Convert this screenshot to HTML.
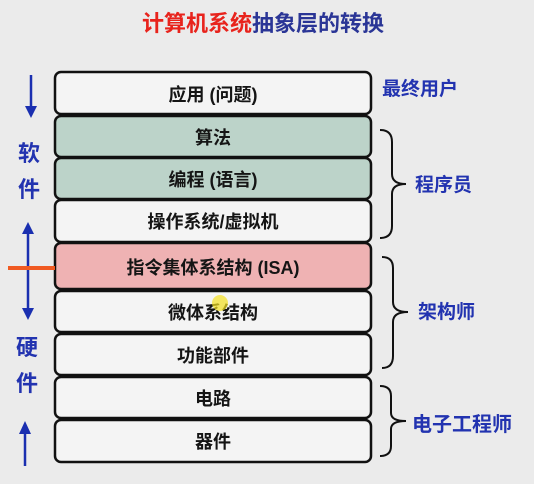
<!DOCTYPE html>
<html><head><meta charset="utf-8"><style>
html,body{margin:0;padding:0;background:#ebebeb;}
svg{display:block}
text{font-family:"Liberation Sans","Noto Sans CJK SC",sans-serif;}
</style></head><body>
<svg width="534" height="484" viewBox="0 0 534 484" xmlns="http://www.w3.org/2000/svg">
<rect width="534" height="484" fill="#ebebeb"/>
<text x="263" y="31" text-anchor="middle" font-size="22" font-weight="bold"><tspan fill="#e8231c">计算机系统</tspan><tspan fill="#2a3596">抽象层的转换</tspan></text>
<g stroke="#111" stroke-width="2.5">
<rect x="55" y="72" width="316" height="42" rx="6" fill="#f4f4f4"/>
<rect x="55" y="116" width="316" height="41" rx="6" fill="#bcd3c9"/>
<rect x="55" y="158" width="316" height="41" rx="6" fill="#bcd3c9"/>
<rect x="55" y="200" width="316" height="42" rx="6" fill="#f4f4f4"/>
<rect x="55" y="243" width="316" height="46" rx="6" fill="#efb2b3"/>
<rect x="55" y="291" width="316" height="41" rx="6" fill="#f4f4f4"/>
<rect x="55" y="334" width="316" height="41" rx="6" fill="#f4f4f4"/>
<rect x="55" y="377" width="316" height="41" rx="6" fill="#f4f4f4"/>
<rect x="55" y="420" width="316" height="42" rx="6" fill="#f4f4f4"/>
</g>
<g font-size="18" fill="#151515" text-anchor="middle" font-weight="bold">
<text x="213" y="101">应用 (问题)</text>
<text x="213" y="144">算法</text>
<text x="213" y="186">编程 (语言)</text>
<text x="213" y="228">操作系统/虚拟机</text>
<text x="213" y="274">指令集体系结构 (ISA)</text>
<text x="213" y="319">微体系结构</text>
<text x="213" y="362">功能部件</text>
<text x="213" y="405">电路</text>
<text x="213" y="448">器件</text>
</g>
<circle cx="220" cy="303" r="8" fill="#f3e020" opacity="0.7"/>
<g stroke="#1a2fb0" stroke-width="2.5" fill="#1a2fb0">
<line x1="31" y1="75" x2="31" y2="108"/><path d="M25 106 L37 106 L31 118 Z" stroke="none"/>
<line x1="28" y1="232" x2="28" y2="310"/><path d="M22 234 L34 234 L28 222 Z" stroke="none"/><path d="M22 308 L34 308 L28 320 Z" stroke="none"/>
<line x1="25" y1="432" x2="25" y2="466"/><path d="M19 434 L31 434 L25 421 Z" stroke="none"/>
</g>
<line x1="8" y1="268" x2="55" y2="268" stroke="#f05a22" stroke-width="4"/>
<g font-size="22" fill="#2233b0" text-anchor="middle" font-weight="bold">
<text x="29" y="161">软</text><text x="29" y="197">件</text>
<text x="27" y="355">硬</text><text x="27" y="391">件</text>
</g>
<g font-size="19" fill="#2233b0" font-weight="bold">
<text x="382" y="95">最终用户</text>
<text x="415" y="191">程序员</text>
<text x="418" y="318">架构师</text>
<text x="412" y="431" font-size="20">电子工程师</text>
</g>
<g stroke="#111" stroke-width="2" fill="none">
<path d="M380 130 Q392 130 392 142 L392 174 Q392 184 406 184 Q392 184 392 194 L392 226 Q392 238 380 238"/>
<path d="M382 257 Q393 257 393 268 L393 302 Q393 312 408 312 Q393 312 393 322 L393 356 Q393 368 382 368"/>
<path d="M380 386 Q391 386 391 396 L391 413 Q391 421 406 421 Q391 421 391 429 L391 446 Q391 456 380 456"/>
</g>
</svg>
</body></html>
